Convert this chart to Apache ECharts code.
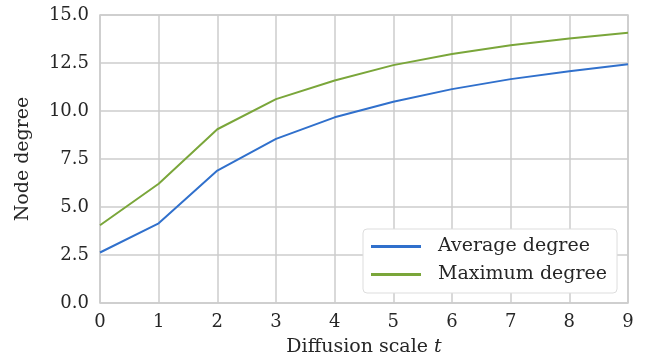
<!DOCTYPE html>
<html>
<head>
    <meta charset="UTF-8">
    <title>Node degree vs diffusion scale</title>
    <script src="https://cdn.jsdelivr.net/npm/echarts@6/dist/echarts.min.js"></script>
    <style>
        html, body { margin: 0; padding: 0; background: #fff; }
        #chart { width: 652px; height: 362px; }
    </style>
</head>
<body>
    <div id="chart"></div>
    <script>
        const scales = [0, 1, 2, 3, 4, 5, 6, 7, 8, 9];
        const averageDegree = [2.63, 4.15, 6.9, 8.55, 9.67, 10.48, 11.14, 11.66, 12.07, 12.44];
        const maximumDegree = [4.05, 6.21, 9.05, 10.62, 11.59, 12.39, 12.97, 13.42, 13.77, 14.08];

        const font = 'DejaVu Serif';
        const gridColor = '#cccccc';
        const textColor = '#262626';

        const chart = echarts.init(document.getElementById('chart'));
        chart.setOption({
            animation: false,
            textStyle: { fontFamily: font },
            grid: {
                left: 100, right: 24, top: 15, bottom: 58,
                show: true, borderColor: gridColor, borderWidth: 1.5
            },
            legend: {
                left: 363, top: 229,
                orient: 'vertical',
                backgroundColor: '#fff',
                borderColor: '#dddddd', borderWidth: 1, borderRadius: 4,
                padding: [8, 10, 9, 8],
                itemWidth: 50, itemHeight: 3, itemGap: 9,
                icon: 'rect',
                textStyle: { fontFamily: font, fontSize: 19, color: textColor, padding: [0, 0, 0, 12] },
                data: ['Average degree', 'Maximum degree']
            },
            xAxis: {
                type: 'value',
                min: 0, max: 9, interval: 1,
                name: 'Diffusion scale {i|t}',
                nameLocation: 'middle', nameGap: 35,
                nameTextStyle: { fontFamily: font, fontSize: 19, color: textColor,
                    rich: { i: { fontFamily: font, fontSize: 19, fontStyle: 'italic', color: textColor } } },
                axisLine: { show: false },
                axisTick: { show: false },
                axisLabel: { fontFamily: font, fontSize: 18, color: textColor, margin: 10 },
                splitLine: { lineStyle: { color: gridColor, width: 1.5 } }
            },
            yAxis: {
                type: 'value',
                min: 0, max: 15, interval: 2.5,
                name: 'Node degree',
                nameLocation: 'middle', nameGap: 67,
                nameTextStyle: { fontFamily: font, fontSize: 19, color: textColor },
                axisLine: { show: false },
                axisTick: { show: false },
                axisLabel: { fontFamily: font, fontSize: 18, color: textColor, margin: 11,
                    formatter: v => v.toFixed(1) },
                splitLine: { lineStyle: { color: gridColor, width: 1.5 } }
            },
            series: [
                {
                    name: 'Average degree', type: 'line',
                    data: scales.map((x, i) => [x, averageDegree[i]]),
                    showSymbol: false,
                    lineStyle: { color: '#3070cc', width: 2 },
                    itemStyle: { color: '#3070cc' }
                },
                {
                    name: 'Maximum degree', type: 'line',
                    data: scales.map((x, i) => [x, maximumDegree[i]]),
                    showSymbol: false,
                    lineStyle: { color: '#7aa63a', width: 2 },
                    itemStyle: { color: '#7aa63a' }
                }
            ]
        });
    </script>
</body>
</html>
